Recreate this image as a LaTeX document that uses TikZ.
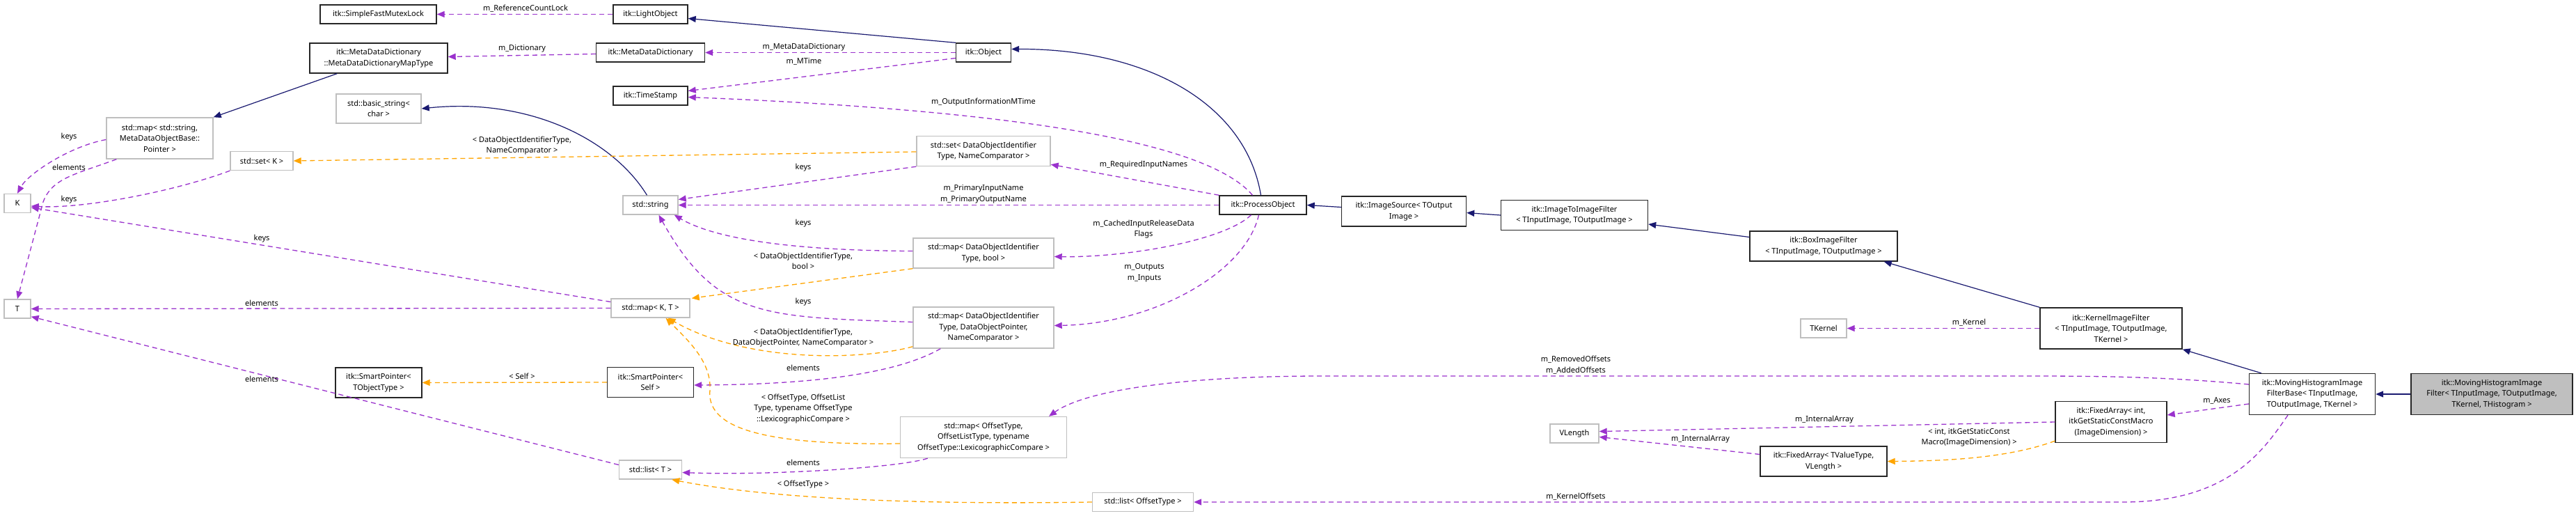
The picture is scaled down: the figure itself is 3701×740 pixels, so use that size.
\documentclass[tikz,border=0pt]{standalone}
\usepackage{fontspec}
\setmainfont{Noto Sans}
\usetikzlibrary{arrows.meta,calc}
\definecolor{pur}{HTML}{9A32CD}
\definecolor{org}{HTML}{FFA500}
\definecolor{nav}{HTML}{191970}
\definecolor{gbd}{HTML}{BFBFBF}
\begin{document}
\begin{tikzpicture}[x=1pt,y=-1pt,
  every node/.style={font=\fontsize{11}{15.5}\selectfont, align=center, inner sep=1pt},
  box/.style={draw=black!85, line width=1.4pt, rectangle},
  gbox/.style={draw=gbd, line width=1.4pt, rectangle},
  sz/.style 2 args={minimum width=#1pt, minimum height=#2pt},
  inh/.style={draw=nav, line width=1.2pt, -{Triangle[length=11pt,width=9pt]}},
  use/.style={draw=pur, line width=1.3pt, dash pattern=on 7pt off 5pt, -{Triangle[length=11pt,width=9pt]}},
  tpl/.style={draw=org, line width=1.3pt, dash pattern=on 7pt off 5pt, -{Triangle[length=11pt,width=9pt]}},
  lbl/.style={inner sep=0pt}]
\fill[white] (0,0) rectangle (3701,740);
\useasboundingbox (0,0) rectangle (3701,740);

% nodes
\node[box,sz={167}{27}] (SFML) at (543.5,20.5) {itk::SimpleFastMutexLock};
\node[box,sz={198}{43}] (MDDMT) at (544,83.5) {itk::MetaDataDictionary\\::MetaDataDictionaryMapType};
\node[gbox,sz={122}{42}] (bstr) at (544,156) {std::basic\_string\textless\\char \textgreater};
\node[gbox,sz={153}{59}] (mapStr) at (229.5,198.5) {std::map\textless{} std::string,\\MetaDataObjectBase::\\Pointer \textgreater};
\node[gbox,sz={90}{27}] (setK) at (376,231) {std::set\textless{} K \textgreater};
\node[gbox,sz={38}{27}] (K) at (25,292) {K};
\node[gbox,sz={38}{27}] (T) at (25,443.5) {T};
\node[box,sz={124}{43}] (SPT) at (544,549.5) {itk::SmartPointer\textless\\TObjectType \textgreater};
\node[box,sz={107}{27}] (LO) at (934.5,20.5) {itk::LightObject};
\node[box,sz={156}{27}] (MDD) at (934.5,75.5) {itk::MetaDataDictionary};
\node[box,sz={107}{27}] (TS) at (934.5,137.5) {itk::TimeStamp};
\node[gbox,sz={79}{27}] (str) at (934.5,294.5) {std::string};
\node[gbox,sz={113}{27}] (mapKT) at (934.5,442.5) {std::map\textless{} K, T \textgreater};
\node[box,sz={124}{43}] (SPS) at (934.5,549) {itk::SmartPointer\textless\\Self \textgreater};
\node[gbox,sz={90}{27}] (listT) at (934.5,674.5) {std::list\textless{} T \textgreater};
\node[box,sz={79}{27}] (Obj) at (1413,75.5) {itk::Object};
\node[gbox,sz={192}{43}] (setDOI) at (1413,217) {std::set\textless{} DataObjectIdentifier\\Type, NameComparator \textgreater};
\node[box,sz={125}{27}] (PO) at (1814.5,294.5) {itk::ProcessObject};
\node[gbox,sz={202}{43}] (mapDOIb) at (1413,363.5) {std::map\textless{} DataObjectIdentifier\\Type, bool \textgreater};
\node[gbox,sz={202}{59}] (mapDOIp) at (1413,470.5) {std::map\textless{} DataObjectIdentifier\\Type, DataObjectPointer,\\NameComparator \textgreater};
\node[gbox,sz={239}{59}] (mapOff) at (1413,628) {std::map\textless{} OffsetType,\\OffsetListType, typename\\OffsetType::LexicographicCompare \textgreater};
\node[gbox,sz={145}{27}] (listOff) at (1642,721) {std::list\textless{} OffsetType \textgreater};
\node[box,sz={179}{43}] (IS) at (2017,303.5) {itk::ImageSource\textless{} TOutput\\Image \textgreater};
\node[box,sz={211}{43}] (I2I) at (2262,309) {itk::ImageToImageFilter\\\textless{} TInputImage, TOutputImage \textgreater};
\node[box,sz={212}{43}] (Box) at (2620,353.5) {itk::BoxImageFilter\\\textless{} TInputImage, TOutputImage \textgreater};
\node[box,sz={204}{59}] (KIF) at (3033,471.5) {itk::KernelImageFilter\\\textless{} TInputImage, TOutputImage,\\TKernel \textgreater};
\node[gbox,sz={66}{27}] (TK) at (2620,471.5) {TKernel};
\node[gbox,sz={70}{27}] (VL) at (2262,622.5) {VLength};
\node[box,sz={182}{43}] (FATV) at (2620,662.5) {itk::FixedArray\textless{} TValueType,\\VLength \textgreater};
\node[box,sz={160}{59}] (FAI) at (3033,606) {itk::FixedArray\textless{} int,\\itkGetStaticConstMacro\\(ImageDimension) \textgreater};
\node[box,sz={181}{59}] (MHIFB) at (3322,566) {itk::MovingHistogramImage\\FilterBase\textless{} TInputImage,\\TOutputImage, TKernel \textgreater};
\node[box,sz={232}{59},fill=gbd] (MHIF) at (3580,566) {itk::MovingHistogramImage\\Filter\textless{} TInputImage, TOutputImage,\\TKernel, THistogram \textgreater};

% inheritance
\draw[inh] (Obj.north west) -- ($(LO.east)+(0,6)$);
\draw[inh] ($(MDDMT.south west)+(40,0)$) -- (mapStr.north east);
\draw[inh] ($(str.north)+(-5,0)$) .. controls (880,200) and (760,140) .. (bstr.east);
\draw[inh] ($(PO.north)+(-3,0)$) .. controls (1790,150) and (1650,70) .. ($(Obj.east)+(0,-5)$);
\draw[inh] ($(IS.west)+(0,-6)$) -- (PO.east);
\draw[inh] (I2I.west) -- ($(IS.east)+(0,2)$);
\draw[inh] ($(Box.west)+(0,-13)$) -- ($(I2I.east)+(0,13)$);
\draw[inh] (KIF.north west) -- ($(Box.south east)+(-20,0)$);
\draw[inh] ($(MHIFB.north west)+(18,0)$) -- (KIF.south east);
\draw[inh] (MHIF.west) -- (MHIFB.east);

% usage
\draw[use] (LO.west) -- (SFML.east);
\draw[use] ($(MDD.west)+(0,2)$) -- ($(MDDMT.east)+(0,-2)$);
\draw[use] (Obj.west) -- (MDD.east);
\draw[use] ($(Obj.west)+(0,8)$) -- ($(TS.east)+(0,-7)$);
\draw[use] ($(PO.north)+(-15,0)$) .. controls (1740,210) and (1500,160) .. ($(TS.east)+(0,2)$);
\draw[use] (PO.north west) -- ($(setDOI.south east)+(0,-3)$);
\draw[use] (PO.west) -- (str.east);
\draw[use] ($(PO.south)+(-17,0)$) .. controls (1760,345) and (1620,370) .. ($(mapDOIb.east)+(0,5)$);
\draw[use] ($(PO.south)+(-6,0)$) .. controls (1790,390) and (1660,465) .. ($(mapDOIp.east)+(0,-3)$);
\draw[use] (setDOI.south west) -- ($(str.east)+(0,-8)$);
\draw[use] ($(mapDOIb.west)+(0,-3)$) .. controls (1150,360) and (1030,345) .. ($(str.south east)+(-6,0)$);
\draw[use] ($(mapDOIp.west)+(0,-8)$) .. controls (1100,455) and (1030,458) .. ($(str.south)+(12,0)$);
\draw[use] ($(mapKT.west)+(0,-9)$) -- ($(K.east)+(0,6)$);
\draw[use] (mapKT.west) -- (T.east);
\draw[use] ($(listT.west)+(0,-7)$) -- ($(T.south east)+(0,-3)$);
\draw[use] ($(mapStr.west)+(0,2)$) .. controls (100,210) and (40,250) .. (K.north);
\draw[use] ($(mapStr.south west)+(15,0)$) .. controls (110,250) and (75,255) .. (62,290) -- (T.north);
\draw[use] (setK.south west) .. controls (250,275) and (120,300) .. ($(K.east)+(0,4)$);
\draw[use] ($(mapDOIp.south west)+(40,0)$) .. controls (1300,530) and (1200,552) .. ($(SPS.east)+(0,4)$);
\draw[use] ($(mapOff.south west)+(40,0)$) .. controls (1290,672) and (1100,683) .. ($(listT.east)+(0,4)$);
\draw[use] ($(MHIFB.west)+(0,-14)$) .. controls (3100,540) and (3000,540) .. (2900,540) -- (1900,540) .. controls (1700,540) and (1560,560) .. ($(mapOff.north)+(94,0)$);
\draw[use] ($(MHIFB.south)+(-35,0)$) .. controls (3250,650) and (3200,721) .. (3050,721) -- (listOff.east);
\draw[use] (KIF.west) -- (TK.east);
\draw[use] ($(MHIFB.west)+(0,14)$) -- ($(FAI.east)+(0,-10)$);
\draw[use] (FAI.west) -- ($(VL.east)+(0,-3)$);
\draw[use] ($(FATV.west)+(0,-10)$) -- ($(VL.east)+(0,5)$);

% template
\draw[tpl] ($(setDOI.west)+(0,1)$) -- (setK.east);
\draw[tpl] (mapDOIb.south west) -- ($(mapKT.north east)+(2,0)$);
\draw[tpl] ($(mapDOIp.south west)+(0,-3)$) .. controls (1250,515) and (1080,525) .. ($(mapKT.south)+(25,0)$);
\draw[tpl] ($(mapOff.west)+(0,9)$) .. controls (1080,640) and (1015,610) .. (1020,560) .. controls (1022,520) and (990,490) .. ($(mapKT.south)+(22,0)$);
\draw[tpl] (SPS.west) -- (SPT.east);
\draw[tpl] (listOff.west) .. controls (1300,725) and (1100,715) .. ($(listT.south east)+(-15,0)$);
\draw[tpl] ($(FAI.south west)+(0,-3)$) .. controls (2880,660) and (2780,662) .. (FATV.east);

% labels
\node[lbl] (l1) at (755,12) {m\_ReferenceCountLock};
\node[lbl] (l2) at (750,70) {m\_Dictionary};
\node[lbl] (l3) at (1155,68) {m\_MetaDataDictionary};
\node[lbl] (l4) at (1155,88) {m\_MTime};
\node[lbl] (l5) at (1413,147) {m\_OutputInformationMTime};
\node[lbl] (l6) at (1643,237) {m\_RequiredInputNames};
\node[lbl] (l7) at (1413,279) {m\_PrimaryInputName\\m\_PrimaryOutputName};
\node[lbl] (l8) at (1643,329) {m\_CachedInputReleaseData\\Flags};
\node[lbl] (l9) at (1644,392) {m\_Outputs\\m\_Inputs};
\node[lbl] (l10) at (1154,241) {keys};
\node[lbl] (l11) at (1154,321) {keys};
\node[lbl] (l12) at (1154,434) {keys};
\node[lbl] (l13) at (376,343) {keys};
\node[lbl] (l14) at (376,435) {elements};
\node[lbl] (l15) at (376,544) {elements};
\node[lbl] (l16) at (99,197) {keys};
\node[lbl] (l17) at (99,240) {elements};
\node[lbl] (l18) at (99,287) {keys};
\node[lbl] (l19) at (1154,528) {elements};
\node[lbl] (l20) at (1154,664) {elements};
\node[lbl] (l21) at (2264,524) {m\_RemovedOffsets\\m\_AddedOffsets};
\node[lbl] (l22) at (2264,713) {m\_KernelOffsets};
\node[lbl] (l23) at (2829,463) {m\_Kernel};
\node[lbl] (l24) at (3185,575) {m\_Axes};
\node[lbl] (l25) at (2621,603) {m\_InternalArray};
\node[lbl] (l26) at (2443,631) {m\_InternalArray};
\node[lbl] (l27) at (750,209) {\textless{} DataObjectIdentifierType,\\NameComparator \textgreater};
\node[lbl] (l28) at (1154,375) {\textless{} DataObjectIdentifierType,\\bool \textgreater};
\node[lbl] (l29) at (1154,485) {\textless{} DataObjectIdentifierType,\\DataObjectPointer, NameComparator \textgreater};
\node[lbl] (l30) at (1154,587) {\textless{} OffsetType, OffsetList\\Type, typename OffsetType\\::LexicographicCompare \textgreater};
\node[lbl] (l31) at (750,540) {\textless{} Self \textgreater};
\node[lbl] (l32) at (1154,696) {\textless{} OffsetType \textgreater};
\node[lbl] (l33) at (2829,628) {\textless{} int, itkGetStaticConst\\Macro(ImageDimension) \textgreater};
\end{tikzpicture}
\end{document}
